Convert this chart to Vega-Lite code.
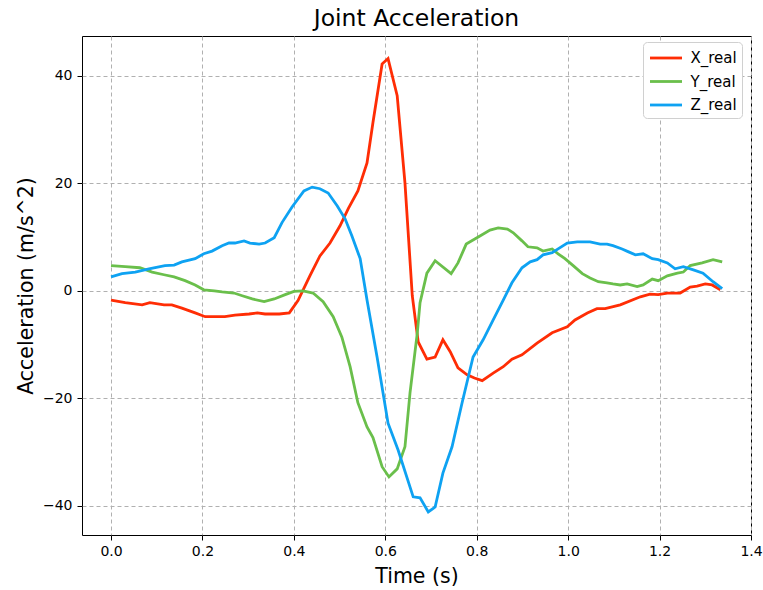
{
  "$schema": "https://vega.github.io/schema/vega-lite/v6.json",
  "autosize": "none",
  "width": 669,
  "height": 499,
  "padding": {"left": 82, "top": 36, "right": 12, "bottom": 55},
  "background": "white",
  "title": {"text": "Joint Acceleration", "fontSize": 23.5, "font": "DejaVu Sans", "fontWeight": "normal", "color": "black", "offset": 7, "baseline": "bottom", "dy": 25},
  "config": {
    "view": {"stroke": "black", "strokeWidth": 1},
    "font": "DejaVu Sans"
  },
  "data": {"values": [
    {"t":0.000,"v":-1.7,"s":"X_real"},{"t":0.031,"v":-2.2,"s":"X_real"},{"t":0.068,"v":-2.6,"s":"X_real"},{"t":0.085,"v":-2.2,"s":"X_real"},{"t":0.116,"v":-2.6,"s":"X_real"},{"t":0.133,"v":-2.6,"s":"X_real"},{"t":0.155,"v":-3.2,"s":"X_real"},{"t":0.184,"v":-4.1,"s":"X_real"},{"t":0.206,"v":-4.8,"s":"X_real"},{"t":0.249,"v":-4.8,"s":"X_real"},{"t":0.271,"v":-4.5,"s":"X_real"},{"t":0.302,"v":-4.3,"s":"X_real"},{"t":0.320,"v":-4.1,"s":"X_real"},{"t":0.337,"v":-4.3,"s":"X_real"},{"t":0.368,"v":-4.3,"s":"X_real"},{"t":0.390,"v":-4.1,"s":"X_real"},{"t":0.409,"v":-1.8,"s":"X_real"},{"t":0.435,"v":2.8,"s":"X_real"},{"t":0.457,"v":6.5,"s":"X_real"},{"t":0.479,"v":8.9,"s":"X_real"},{"t":0.501,"v":12.1,"s":"X_real"},{"t":0.519,"v":15.3,"s":"X_real"},{"t":0.540,"v":18.6,"s":"X_real"},{"t":0.560,"v":23.8,"s":"X_real"},{"t":0.573,"v":31.3,"s":"X_real"},{"t":0.593,"v":42.2,"s":"X_real"},{"t":0.606,"v":43.2,"s":"X_real"},{"t":0.626,"v":36.3,"s":"X_real"},{"t":0.643,"v":20.1,"s":"X_real"},{"t":0.659,"v":-0.9,"s":"X_real"},{"t":0.672,"v":-9.5,"s":"X_real"},{"t":0.691,"v":-12.7,"s":"X_real"},{"t":0.709,"v":-12.3,"s":"X_real"},{"t":0.726,"v":-9.1,"s":"X_real"},{"t":0.742,"v":-11.3,"s":"X_real"},{"t":0.759,"v":-14.3,"s":"X_real"},{"t":0.779,"v":-15.6,"s":"X_real"},{"t":0.795,"v":-16.2,"s":"X_real"},{"t":0.812,"v":-16.7,"s":"X_real"},{"t":0.836,"v":-15.3,"s":"X_real"},{"t":0.858,"v":-14.1,"s":"X_real"},{"t":0.877,"v":-12.7,"s":"X_real"},{"t":0.899,"v":-11.9,"s":"X_real"},{"t":0.932,"v":-9.7,"s":"X_real"},{"t":0.965,"v":-7.8,"s":"X_real"},{"t":0.998,"v":-6.7,"s":"X_real"},{"t":1.015,"v":-5.4,"s":"X_real"},{"t":1.042,"v":-4.1,"s":"X_real"},{"t":1.063,"v":-3.3,"s":"X_real"},{"t":1.081,"v":-3.3,"s":"X_real"},{"t":1.114,"v":-2.6,"s":"X_real"},{"t":1.158,"v":-1.1,"s":"X_real"},{"t":1.179,"v":-0.6,"s":"X_real"},{"t":1.197,"v":-0.7,"s":"X_real"},{"t":1.217,"v":-0.4,"s":"X_real"},{"t":1.245,"v":-0.4,"s":"X_real"},{"t":1.267,"v":0.7,"s":"X_real"},{"t":1.282,"v":0.9,"s":"X_real"},{"t":1.300,"v":1.3,"s":"X_real"},{"t":1.315,"v":1.1,"s":"X_real"},{"t":1.333,"v":0.2,"s":"X_real"},

    {"t":0.000,"v":4.7,"s":"Y_real"},{"t":0.031,"v":4.5,"s":"Y_real"},{"t":0.063,"v":4.3,"s":"Y_real"},{"t":0.090,"v":3.5,"s":"Y_real"},{"t":0.116,"v":3.0,"s":"Y_real"},{"t":0.138,"v":2.6,"s":"Y_real"},{"t":0.162,"v":1.9,"s":"Y_real"},{"t":0.184,"v":1.1,"s":"Y_real"},{"t":0.203,"v":0.2,"s":"Y_real"},{"t":0.226,"v":0.0,"s":"Y_real"},{"t":0.243,"v":-0.2,"s":"Y_real"},{"t":0.269,"v":-0.4,"s":"Y_real"},{"t":0.287,"v":-0.9,"s":"Y_real"},{"t":0.309,"v":-1.5,"s":"Y_real"},{"t":0.335,"v":-2.0,"s":"Y_real"},{"t":0.357,"v":-1.5,"s":"Y_real"},{"t":0.381,"v":-0.7,"s":"Y_real"},{"t":0.400,"v":-0.1,"s":"Y_real"},{"t":0.420,"v":0.0,"s":"Y_real"},{"t":0.442,"v":-0.4,"s":"Y_real"},{"t":0.464,"v":-2.0,"s":"Y_real"},{"t":0.486,"v":-4.8,"s":"Y_real"},{"t":0.505,"v":-8.6,"s":"Y_real"},{"t":0.523,"v":-14.1,"s":"Y_real"},{"t":0.540,"v":-20.8,"s":"Y_real"},{"t":0.560,"v":-25.3,"s":"Y_real"},{"t":0.573,"v":-27.3,"s":"Y_real"},{"t":0.593,"v":-32.7,"s":"Y_real"},{"t":0.608,"v":-34.6,"s":"Y_real"},{"t":0.626,"v":-33.1,"s":"Y_real"},{"t":0.643,"v":-29.0,"s":"Y_real"},{"t":0.654,"v":-19.0,"s":"Y_real"},{"t":0.670,"v":-7.8,"s":"Y_real"},{"t":0.676,"v":-2.2,"s":"Y_real"},{"t":0.691,"v":3.3,"s":"Y_real"},{"t":0.709,"v":5.6,"s":"Y_real"},{"t":0.744,"v":3.2,"s":"Y_real"},{"t":0.759,"v":5.2,"s":"Y_real"},{"t":0.777,"v":8.7,"s":"Y_real"},{"t":0.807,"v":10.2,"s":"Y_real"},{"t":0.829,"v":11.3,"s":"Y_real"},{"t":0.847,"v":11.7,"s":"Y_real"},{"t":0.867,"v":11.5,"s":"Y_real"},{"t":0.880,"v":10.8,"s":"Y_real"},{"t":0.899,"v":9.3,"s":"Y_real"},{"t":0.912,"v":8.2,"s":"Y_real"},{"t":0.932,"v":8.0,"s":"Y_real"},{"t":0.945,"v":7.4,"s":"Y_real"},{"t":0.965,"v":7.8,"s":"Y_real"},{"t":0.978,"v":6.9,"s":"Y_real"},{"t":0.993,"v":6.0,"s":"Y_real"},{"t":1.011,"v":4.7,"s":"Y_real"},{"t":1.031,"v":3.2,"s":"Y_real"},{"t":1.048,"v":2.4,"s":"Y_real"},{"t":1.066,"v":1.7,"s":"Y_real"},{"t":1.085,"v":1.5,"s":"Y_real"},{"t":1.098,"v":1.3,"s":"Y_real"},{"t":1.114,"v":1.1,"s":"Y_real"},{"t":1.129,"v":1.3,"s":"Y_real"},{"t":1.151,"v":0.8,"s":"Y_real"},{"t":1.164,"v":1.1,"s":"Y_real"},{"t":1.184,"v":2.2,"s":"Y_real"},{"t":1.197,"v":1.9,"s":"Y_real"},{"t":1.217,"v":2.8,"s":"Y_real"},{"t":1.239,"v":3.3,"s":"Y_real"},{"t":1.252,"v":3.5,"s":"Y_real"},{"t":1.267,"v":4.7,"s":"Y_real"},{"t":1.293,"v":5.2,"s":"Y_real"},{"t":1.317,"v":5.8,"s":"Y_real"},{"t":1.337,"v":5.4,"s":"Y_real"},

    {"t":0.000,"v":2.6,"s":"Z_real"},{"t":0.024,"v":3.2,"s":"Z_real"},{"t":0.053,"v":3.5,"s":"Z_real"},{"t":0.083,"v":4.1,"s":"Z_real"},{"t":0.118,"v":4.7,"s":"Z_real"},{"t":0.138,"v":4.8,"s":"Z_real"},{"t":0.155,"v":5.4,"s":"Z_real"},{"t":0.184,"v":6.0,"s":"Z_real"},{"t":0.203,"v":6.9,"s":"Z_real"},{"t":0.221,"v":7.4,"s":"Z_real"},{"t":0.243,"v":8.4,"s":"Z_real"},{"t":0.258,"v":8.9,"s":"Z_real"},{"t":0.271,"v":8.9,"s":"Z_real"},{"t":0.291,"v":9.3,"s":"Z_real"},{"t":0.304,"v":8.9,"s":"Z_real"},{"t":0.324,"v":8.7,"s":"Z_real"},{"t":0.337,"v":8.9,"s":"Z_real"},{"t":0.357,"v":9.9,"s":"Z_real"},{"t":0.374,"v":12.7,"s":"Z_real"},{"t":0.396,"v":15.6,"s":"Z_real"},{"t":0.422,"v":18.6,"s":"Z_real"},{"t":0.440,"v":19.3,"s":"Z_real"},{"t":0.457,"v":19.0,"s":"Z_real"},{"t":0.475,"v":18.2,"s":"Z_real"},{"t":0.495,"v":15.8,"s":"Z_real"},{"t":0.512,"v":13.4,"s":"Z_real"},{"t":0.527,"v":10.2,"s":"Z_real"},{"t":0.545,"v":6.0,"s":"Z_real"},{"t":0.560,"v":-1.7,"s":"Z_real"},{"t":0.582,"v":-12.3,"s":"Z_real"},{"t":0.606,"v":-24.6,"s":"Z_real"},{"t":0.628,"v":-29.6,"s":"Z_real"},{"t":0.661,"v":-38.3,"s":"Z_real"},{"t":0.676,"v":-38.5,"s":"Z_real"},{"t":0.694,"v":-41.1,"s":"Z_real"},{"t":0.709,"v":-40.2,"s":"Z_real"},{"t":0.726,"v":-33.9,"s":"Z_real"},{"t":0.746,"v":-29.0,"s":"Z_real"},{"t":0.768,"v":-20.8,"s":"Z_real"},{"t":0.792,"v":-12.3,"s":"Z_real"},{"t":0.814,"v":-9.1,"s":"Z_real"},{"t":0.836,"v":-5.4,"s":"Z_real"},{"t":0.858,"v":-1.7,"s":"Z_real"},{"t":0.877,"v":1.5,"s":"Z_real"},{"t":0.899,"v":4.3,"s":"Z_real"},{"t":0.917,"v":5.4,"s":"Z_real"},{"t":0.932,"v":5.8,"s":"Z_real"},{"t":0.945,"v":6.7,"s":"Z_real"},{"t":0.965,"v":7.1,"s":"Z_real"},{"t":0.978,"v":7.8,"s":"Z_real"},{"t":0.998,"v":8.9,"s":"Z_real"},{"t":1.020,"v":9.1,"s":"Z_real"},{"t":1.048,"v":9.1,"s":"Z_real"},{"t":1.070,"v":8.7,"s":"Z_real"},{"t":1.085,"v":8.7,"s":"Z_real"},{"t":1.098,"v":8.4,"s":"Z_real"},{"t":1.118,"v":7.8,"s":"Z_real"},{"t":1.131,"v":7.3,"s":"Z_real"},{"t":1.147,"v":6.7,"s":"Z_real"},{"t":1.164,"v":6.9,"s":"Z_real"},{"t":1.184,"v":6.0,"s":"Z_real"},{"t":1.197,"v":5.8,"s":"Z_real"},{"t":1.217,"v":5.2,"s":"Z_real"},{"t":1.234,"v":4.1,"s":"Z_real"},{"t":1.252,"v":4.5,"s":"Z_real"},{"t":1.274,"v":3.9,"s":"Z_real"},{"t":1.295,"v":3.3,"s":"Z_real"},{"t":1.317,"v":1.7,"s":"Z_real"},{"t":1.337,"v":0.4,"s":"Z_real"}
  ]},
  "mark": {"type": "line", "strokeWidth": 2.8, "clip": true},
  "encoding": {
    "x": {
      "field": "t", "type": "quantitative",
      "scale": {"domain": [-0.0635, 1.4], "nice": false, "zero": false},
      "axis": {
        "title": "Time (s)", "titleFontSize": 20.5, "titleFontWeight": "normal", "titleColor": "black", "titlePadding": 8,
        "values": [0, 0.2, 0.4, 0.6, 0.8, 1.0, 1.2, 1.4], "format": ".1f",
        "labelFontSize": 14, "labelColor": "black", "labelPadding": 4, "labelFlush": false,
        "tickSize": 5, "tickColor": "black", "domain": false,
        "grid": true, "gridColor": "#b0b0b0", "gridDash": [4, 3], "gridWidth": 1
      }
    },
    "y": {
      "field": "v", "type": "quantitative",
      "scale": {"domain": [-45.4, 47.4], "nice": false, "zero": false},
      "axis": {
        "title": "Acceleration (m/s^2)", "titleFontSize": 20.5, "titleFontWeight": "normal", "titleColor": "black", "titlePadding": 6,
        "values": [-40, -20, 0, 20, 40],
        "labelExpr": "replace(datum.label, '-', '−')",
        "labelFontSize": 14, "labelColor": "black", "labelPadding": 5,
        "tickSize": 5, "tickColor": "black", "domain": false,
        "grid": true, "gridColor": "#b0b0b0", "gridDash": [4, 3], "gridWidth": 1
      }
    },
    "color": {
      "field": "s", "type": "nominal",
      "scale": {"domain": ["X_real", "Y_real", "Z_real"], "range": ["#ff2d05", "#6abf4b", "#0ea2f2"]},
      "legend": {
        "title": null, "orient": "none", "legendX": 561, "legendY": 6,
        "symbolType": "M-1.6,0L1.6,0", "symbolStrokeWidth": 2.8, "symbolSize": 400, "symbolOffset": 7,
        "labelFontSize": 15, "labelColor": "black", "labelOffset": 13,
        "rowPadding": 3.5, "padding": 4.5,
        "strokeColor": "#d0d0d0", "fillColor": "white", "cornerRadius": 4
      }
    }
  }
}
